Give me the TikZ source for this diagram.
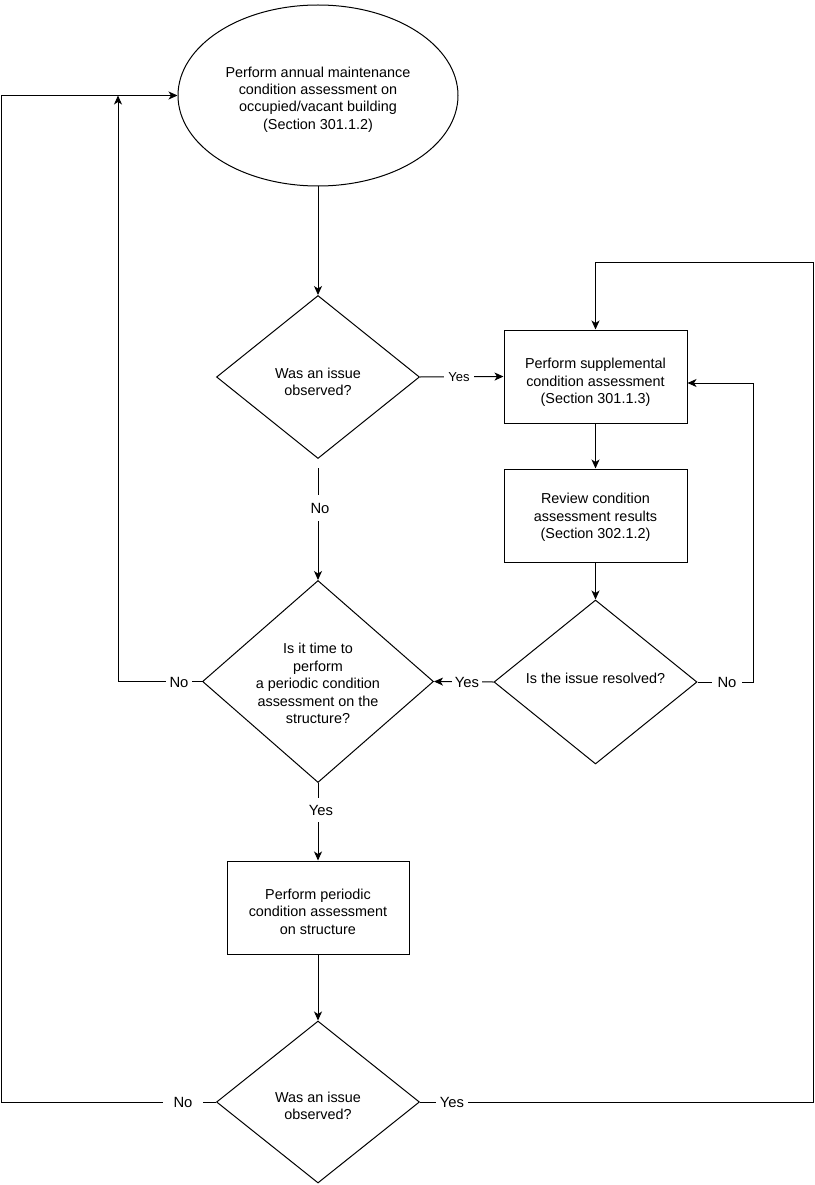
\documentclass[tikz,border=0pt]{standalone}
\usepackage{fontspec}
\setmainfont{Liberation Sans}
\usetikzlibrary{shapes.geometric,arrows.meta}
\begin{document}
\begin{tikzpicture}[x=1pt,y=-1pt,
  every node/.style={font=\fontsize{14.4}{17.4}\selectfont, align=center},
  box/.style={draw, line width=1pt, rectangle, inner sep=0pt},
  ell/.style={draw, line width=1pt, ellipse, inner sep=0pt},
  dia/.style={draw, line width=1pt, diamond, inner sep=0pt},
  txt/.style={inner sep=0pt},
  lab/.style={fill=white, inner xsep=6pt, inner ysep=2pt, font=\fontsize{14.8}{17}\selectfont},
  conn/.style={line width=1pt},
  arr/.style={conn, -{Stealth[length=9pt,width=8pt,inset=2.5pt]}}
]
\useasboundingbox (0,0) rectangle (814,1185);

% shapes
\node[ell, minimum width=280pt, minimum height=181pt] (ell) at (318,95.5) {};
\node[dia, minimum width=203pt, minimum height=163pt] (d1) at (318,377) {};
\node[box, minimum width=183pt, minimum height=93pt] (b1) at (595.5,376.5) {};
\node[box, minimum width=183pt, minimum height=93pt] (b2) at (595.5,515.5) {};
\node[dia, minimum width=203pt, minimum height=164pt] (d3) at (595.5,682) {};
\node[dia, minimum width=231pt, minimum height=202pt] (d2) at (318,681.5) {};
\node[box, minimum width=182pt, minimum height=93pt] (b3) at (318,907.5) {};
\node[dia, minimum width=203pt, minimum height=162pt] (d4) at (318,1102) {};

% texts
\node[txt] (tell) at ([yshift=-4pt]ell.center)
  {Perform annual maintenance\\condition assessment on\\occupied/vacant building\\(Section 301.1.2)};
\node[txt] (td1) at ([yshift=-5pt]d1.center) {Was an issue\\observed?};
\node[txt] (tb1) at ([yshift=-6pt]b1.center)
  {Perform supplemental\\condition assessment\\ (Section 301.1.3)};
\node[txt] (tb2) at ([yshift=-2pt]b2.center)
  {Review condition\\assessment results\\(Section 302.1.2)};
\node[txt] (td3) at ([yshift=4pt]d3.center) {Is the issue resolved?};
\node[txt] (td2) at ([yshift=-2pt]d2.center)
  {Is it time to\\perform\\a periodic condition\\assessment on the\\structure?};
\node[txt] (tb3) at ([yshift=-4pt]b3.center)
  {Perform periodic\\condition assessment\\on structure};
\node[txt] (td4) at ([yshift=-4pt]d4.center) {Was an issue\\observed?};

\coordinate (c5) at (753,383);
\coordinate (c7) at (118,95.5);
\coordinate (c11) at (1,1102);
\coordinate (c12) at (813,262);
\coordinate (c8) at (318,468);

% connectors
\draw[arr] (ell.south) -- (d1.north);
\draw[arr] (d1.east) -- (b1.west);
\draw[arr] (b1.south) -- (b2.north);
\draw[arr] (b2.south) -- (d3.north);
\draw[arr] (d3.east) -| (c5) -- (b1.east |- c5);
\draw[arr] (d3.west) -- (d2.east);
\draw[arr] (d2.west) -| (c7);
\draw[arr] (c8) -- (d2.north);
\draw[arr] (d2.south) -- (b3.north);
\draw[arr] (b3.south) -- (d4.north);
\draw[arr] (d4.west) -| (c11) |- (ell.west);
\draw[arr] (d4.east) -| (c12) -| (b1.north);

% labels
\node[lab, inner xsep=4pt, font=\fontsize{13}{15}\selectfont] (y1) at (459,377) {Yes};
\node[lab] (n5) at (727,682) {No};
\node[lab, inner xsep=3pt] (y6) at (467,682) {Yes};
\node[lab, inner xsep=4pt] (n7) at (179,682) {No};
\node[lab, inner ysep=8pt] (n8) at (320,508) {No};
\node[lab, inner ysep=7pt] (y9) at (321,810) {Yes};
\node[lab, inner xsep=11pt] (n11) at (183,1102) {No};
\node[lab, inner xsep=4pt] (y12) at (452,1102) {Yes};
\end{tikzpicture}
\end{document}
